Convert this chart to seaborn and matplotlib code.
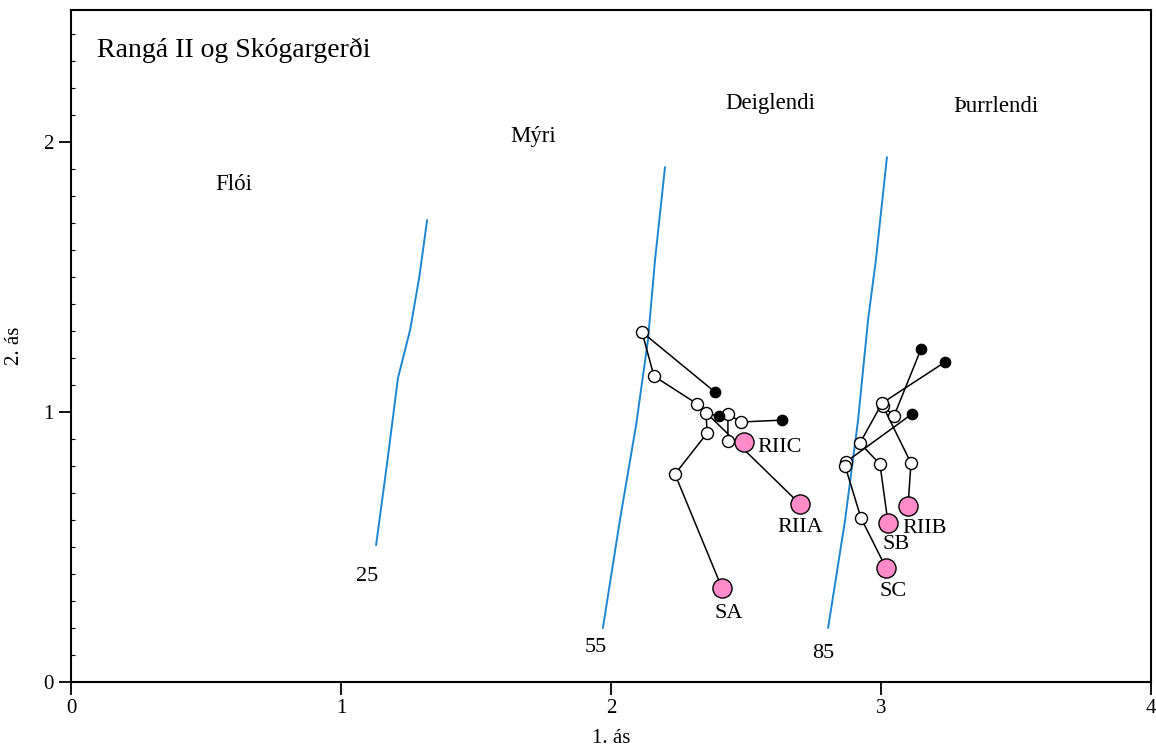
# Ordination plot: Rangá II og Skógargerði
import numpy as np
import pandas as pd
import matplotlib
matplotlib.use('Agg')
import matplotlib.pyplot as plt
from matplotlib.ticker import MultipleLocator
import seaborn as sns

sns.set_style('ticks')
plt.rcParams['font.family'] = ['Liberation Serif', 'DejaVu Serif']
plt.rcParams['axes.linewidth'] = 1.5
for k in ['text.color', 'axes.labelcolor', 'xtick.color', 'ytick.color', 'axes.edgecolor']:
    plt.rcParams[k] = 'black'

# trajectories: first year (filled), three middle years (open), last year (pink)
site_names = ['RIIA', 'SA', 'RIIC', 'RIIB', 'SB', 'SC']
traj_x = [
    [2.385, 2.115, 2.159, 2.319, 2.700],
    [2.400, 2.352, 2.356, 2.237, 2.411],
    [2.633, 2.481, 2.433, 2.433, 2.493],
    [3.148, 3.048, 3.007, 3.111, 3.100],
    [3.237, 3.004, 2.922, 2.996, 3.026],
    [3.115, 2.870, 2.867, 2.926, 3.019],
]
traj_y = [
    [1.074, 1.296, 1.133, 1.030, 0.659],
    [0.985, 0.996, 0.922, 0.770, 0.348],
    [0.970, 0.963, 0.993, 0.893, 0.889],
    [1.233, 0.985, 1.022, 0.811, 0.652],
    [1.185, 1.033, 0.885, 0.807, 0.589],
    [0.993, 0.815, 0.800, 0.607, 0.422],
]

# moisture isolines
iso_labels = ['25', '55', '85']
iso_x = [
    [1.130, 1.172, 1.211, 1.256, 1.290, 1.319],
    [1.970, 2.033, 2.093, 2.137, 2.163, 2.200],
    [2.804, 2.867, 2.915, 2.952, 2.981, 3.022],
]
iso_y = [
    [0.507, 0.820, 1.126, 1.304, 1.500, 1.711],
    [0.200, 0.600, 0.952, 1.267, 1.563, 1.907],
    [0.200, 0.600, 0.970, 1.341, 1.563, 1.944],
]
iso_label_pos = [(1.096, 0.389), (1.944, 0.126), (2.785, 0.104)]

zones = ['Flói', 'Mýri', 'Deiglendi', 'Þurrlendi']
zone_pos = [(0.604, 1.841), (1.711, 2.022), (2.589, 2.141), (3.426, 2.130)]

rows = []
for s, xs, ys in zip(site_names, traj_x, traj_y):
    for i, (x, y) in enumerate(zip(xs, ys)):
        kind = 'first' if i == 0 else ('last' if i == len(xs) - 1 else 'mid')
        rows.append({'site': s, 'step': i, 'x': x, 'y': y, 'kind': kind})
df = pd.DataFrame(rows)

iso = pd.DataFrame([{'iso': l, 'x': x, 'y': y}
                    for l, xs, ys in zip(iso_labels, iso_x, iso_y)
                    for x, y in zip(xs, ys)])

fig = plt.figure(figsize=(11.56, 7.47), dpi=100)
ax = fig.add_axes([0.0614, 0.0870, 0.9343, 0.8996])

sns.lineplot(data=iso, x='x', y='y', units='iso', estimator=None, sort=False,
             color='#1d86d0', lw=1.4, ax=ax, zorder=1)
sns.lineplot(data=df, x='x', y='y', units='site', estimator=None, sort=False,
             color='black', lw=1.1, ax=ax, zorder=2)
sns.scatterplot(data=df[df.kind == 'mid'], x='x', y='y', s=75, color='white',
                edgecolor='black', linewidth=1.0, ax=ax, zorder=3)
sns.scatterplot(data=df[df.kind == 'first'], x='x', y='y', s=55, color='black',
                edgecolor='black', linewidth=1.0, ax=ax, zorder=3)
sns.scatterplot(data=df[df.kind == 'last'], x='x', y='y', s=190, color='#ff8cc8',
                edgecolor='black', linewidth=1.0, ax=ax, zorder=4)

# site labels
lab_off = {'RIIA': (0.0, -0.085, 'center'), 'SA': (0.025, -0.095, 'center'),
           'RIIC': (0.05, -0.02, 'left'), 'RIIB': (0.06, -0.085, 'center'),
           'SB': (0.03, -0.08, 'center'), 'SC': (0.025, -0.085, 'center')}
last = df[df.kind == 'last']
for _, r in last.iterrows():
    dx, dy, ha = lab_off[r.site]
    ax.text(r.x + dx, r.y + dy, r.site, fontsize=16, ha=ha, va='center')

for l, (x, y) in zip(iso_labels, iso_label_pos):
    ax.text(x, y, l, fontsize=16, ha='center', va='center')
for z, (x, y) in zip(zones, zone_pos):
    ax.text(x, y, z, fontsize=16.5, ha='center', va='center')
ax.text(0.096, 2.341, 'Rangá II og Skógargerði', fontsize=20, ha='left', va='center')

ax.set_xlim(0, 4)
ax.set_ylim(0, 2.489)
ax.set_xticks([0, 1, 2, 3, 4])
ax.set_yticks([0, 1, 2])
ax.yaxis.set_minor_locator(MultipleLocator(0.1))
ax.tick_params(axis='both', which='major', direction='out', length=9, width=1.3,
               labelsize=15)
ax.tick_params(axis='y', which='minor', direction='in', length=3, width=0.8,
               left=True)
ax.tick_params(axis='x', which='minor', bottom=False)
ax.set_xlabel('1. ás', fontsize=15, labelpad=8)
ax.set_ylabel('2. ás', fontsize=15, labelpad=14)
for sp in ax.spines.values():
    sp.set_visible(True)
    sp.set_color('black')

fig.savefig('out.png', dpi=100)
